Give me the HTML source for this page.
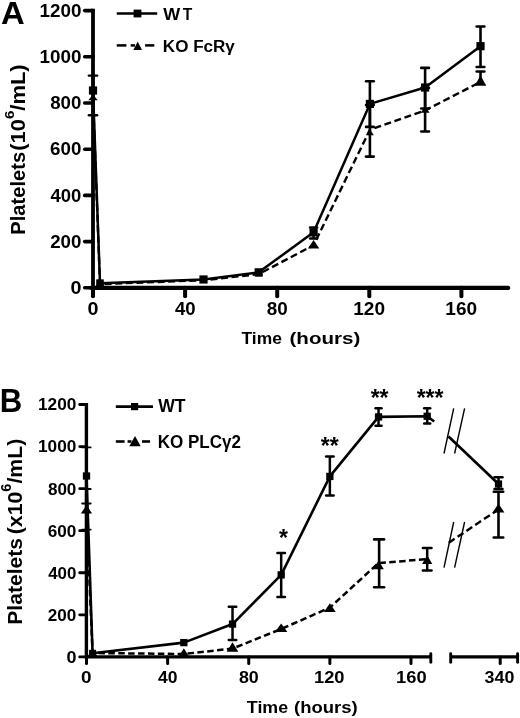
<!DOCTYPE html>
<html lang="en"><head><meta charset="utf-8"><title>Figure</title>
<style>
html,body{margin:0;padding:0;background:#fff;}
svg{display:block;}
svg text{font-family:"Liberation Sans",sans-serif;fill:#000;}
</style></head><body>
<svg width="520" height="718" viewBox="0 0 520 718">
<rect x="0" y="0" width="520" height="718" fill="#fff"/>
<g fill="#000">
<line x1="93.00" y1="8.85" x2="93.00" y2="289.60" stroke="#000" stroke-width="3.8" stroke-linecap="butt"/>
<line x1="91.10" y1="287.90" x2="508.20" y2="287.90" stroke="#000" stroke-width="4.2" stroke-linecap="round"/>
<line x1="84.70" y1="287.80" x2="93.00" y2="287.80" stroke="#000" stroke-width="3.6" stroke-linecap="round"/>
<line x1="84.70" y1="241.60" x2="93.00" y2="241.60" stroke="#000" stroke-width="3.6" stroke-linecap="round"/>
<line x1="84.70" y1="195.40" x2="93.00" y2="195.40" stroke="#000" stroke-width="3.6" stroke-linecap="round"/>
<line x1="84.70" y1="149.20" x2="93.00" y2="149.20" stroke="#000" stroke-width="3.6" stroke-linecap="round"/>
<line x1="84.70" y1="103.00" x2="93.00" y2="103.00" stroke="#000" stroke-width="3.6" stroke-linecap="round"/>
<line x1="84.70" y1="56.80" x2="93.00" y2="56.80" stroke="#000" stroke-width="3.6" stroke-linecap="round"/>
<line x1="84.70" y1="10.60" x2="93.00" y2="10.60" stroke="#000" stroke-width="3.6" stroke-linecap="round"/>
<line x1="93.00" y1="287.80" x2="93.00" y2="296.30" stroke="#000" stroke-width="4.0" stroke-linecap="round"/>
<line x1="185.10" y1="287.80" x2="185.10" y2="296.30" stroke="#000" stroke-width="4.0" stroke-linecap="round"/>
<line x1="277.20" y1="287.80" x2="277.20" y2="296.30" stroke="#000" stroke-width="4.0" stroke-linecap="round"/>
<line x1="369.30" y1="287.80" x2="369.30" y2="296.30" stroke="#000" stroke-width="4.0" stroke-linecap="round"/>
<line x1="461.40" y1="287.80" x2="461.40" y2="296.30" stroke="#000" stroke-width="4.0" stroke-linecap="round"/>
<text transform="translate(70.41 293.90) scale(1.1244 1)" font-size="17.60" font-weight="bold" >0</text>
<text transform="translate(50.15 247.70) scale(1.0632 1)" font-size="17.60" font-weight="bold" >200</text>
<text transform="translate(50.52 201.50) scale(1.0500 1)" font-size="17.60" font-weight="bold" >400</text>
<text transform="translate(50.10 155.30) scale(1.0649 1)" font-size="17.60" font-weight="bold" >600</text>
<text transform="translate(50.19 109.10) scale(1.0616 1)" font-size="17.60" font-weight="bold" >800</text>
<text transform="translate(39.42 62.90) scale(1.0720 1)" font-size="17.60" font-weight="bold" >1000</text>
<text transform="translate(39.42 16.70) scale(1.0720 1)" font-size="17.60" font-weight="bold" >1200</text>
<text transform="translate(87.51 314.90) scale(1.1118 1)" font-size="17.80" font-weight="bold" >0</text>
<text transform="translate(175.02 314.90) scale(1.0437 1)" font-size="17.80" font-weight="bold" >40</text>
<text transform="translate(266.79 314.90) scale(1.0613 1)" font-size="17.80" font-weight="bold" >80</text>
<text transform="translate(353.21 314.90) scale(1.0697 1)" font-size="17.80" font-weight="bold" >120</text>
<text transform="translate(445.31 314.90) scale(1.0697 1)" font-size="17.80" font-weight="bold" >160</text>
<text transform="translate(241.53 344.30) scale(1.0497 1)" font-size="16.60" font-weight="bold" >Time</text>
<text transform="translate(289.47 344.30) scale(1.2400 1)" font-size="16.60" font-weight="bold" >(hours)</text>
<text transform="translate(0.98 23.90) scale(1.0197 1)" font-size="32.20" font-weight="bold" >A</text>
<text transform="translate(24.70 234.66) rotate(-90) scale(1.0387 1)" font-size="19.40" font-weight="bold">Platelets</text>
<text transform="translate(24.70 150.80) rotate(-90) scale(1.1319 1)" font-size="19.40" font-weight="bold">(10<tspan font-size="13.39" dy="-10.57">6</tspan><tspan dy="10.57">/mL)</tspan></text>
<line x1="116.70" y1="13.50" x2="157.20" y2="13.50" stroke="#000" stroke-width="2.5" stroke-linecap="butt"/>
<rect x="133.60" y="9.60" width="7.80" height="7.80"/>
<text transform="translate(163.36 19.60) scale(1.0831 1)" font-size="16.60" font-weight="bold" >W</text>
<text transform="translate(182.84 19.60) scale(0.9394 1)" font-size="16.60" font-weight="bold" >T</text>
<line x1="116.70" y1="45.40" x2="126.40" y2="45.40" stroke="#000" stroke-width="2.5" stroke-linecap="butt"/>
<line x1="130.70" y1="45.40" x2="135.00" y2="45.40" stroke="#000" stroke-width="2.5" stroke-linecap="butt"/>
<line x1="145.10" y1="45.40" x2="154.30" y2="45.40" stroke="#000" stroke-width="2.5" stroke-linecap="butt"/>
<polygon points="137.70,41.50 133.40,50.00 142.00,50.00"/>
<text transform="translate(162.85 51.80) scale(1.0149 1)" font-size="16.80" font-weight="bold" >KO FcRγ</text>
<polyline points="93.00,98.07 100.00,284.14 203.50,280.22 258.70,274.14 313.60,245.21 369.90,129.79 425.10,110.46 480.50,81.85" fill="none" stroke="#000" stroke-width="2.4" stroke-linejoin="round" stroke-dasharray="7 3.6"/>
<polyline points="93.00,90.53 100.00,283.18 203.50,279.48 258.70,272.32 313.60,232.36 369.90,103.92 425.10,87.52 480.50,46.17" fill="none" stroke="#000" stroke-width="2.5" stroke-linejoin="round"/>
<line x1="93.00" y1="75.60" x2="93.00" y2="115.20" stroke="#000" stroke-width="2.4" stroke-linecap="butt"/>
<line x1="88.86" y1="75.60" x2="97.14" y2="75.60" stroke="#000" stroke-width="2.4" stroke-linecap="round"/>
<line x1="88.86" y1="115.20" x2="97.14" y2="115.20" stroke="#000" stroke-width="2.4" stroke-linecap="round"/>
<line x1="313.60" y1="227.50" x2="313.60" y2="238.50" stroke="#000" stroke-width="2.4" stroke-linecap="butt"/>
<line x1="310.06" y1="227.50" x2="317.14" y2="227.50" stroke="#000" stroke-width="2.4" stroke-linecap="round"/>
<line x1="310.06" y1="238.50" x2="317.14" y2="238.50" stroke="#000" stroke-width="2.4" stroke-linecap="round"/>
<line x1="369.90" y1="81.30" x2="369.90" y2="126.90" stroke="#000" stroke-width="2.6" stroke-linecap="butt"/>
<line x1="366.04" y1="81.30" x2="373.76" y2="81.30" stroke="#000" stroke-width="2.6" stroke-linecap="round"/>
<line x1="366.04" y1="126.90" x2="373.76" y2="126.90" stroke="#000" stroke-width="2.6" stroke-linecap="round"/>
<line x1="369.90" y1="105.00" x2="369.90" y2="156.60" stroke="#000" stroke-width="2.6" stroke-linecap="butt"/>
<line x1="366.04" y1="105.00" x2="373.76" y2="105.00" stroke="#000" stroke-width="2.6" stroke-linecap="round"/>
<line x1="366.04" y1="156.60" x2="373.76" y2="156.60" stroke="#000" stroke-width="2.6" stroke-linecap="round"/>
<line x1="425.10" y1="67.90" x2="425.10" y2="108.50" stroke="#000" stroke-width="2.6" stroke-linecap="butt"/>
<line x1="421.24" y1="67.90" x2="428.96" y2="67.90" stroke="#000" stroke-width="2.6" stroke-linecap="round"/>
<line x1="421.24" y1="108.50" x2="428.96" y2="108.50" stroke="#000" stroke-width="2.6" stroke-linecap="round"/>
<line x1="425.10" y1="88.00" x2="425.10" y2="131.50" stroke="#000" stroke-width="2.6" stroke-linecap="butt"/>
<line x1="421.24" y1="88.00" x2="428.96" y2="88.00" stroke="#000" stroke-width="2.6" stroke-linecap="round"/>
<line x1="421.24" y1="131.50" x2="428.96" y2="131.50" stroke="#000" stroke-width="2.6" stroke-linecap="round"/>
<line x1="480.50" y1="26.50" x2="480.50" y2="67.00" stroke="#000" stroke-width="2.6" stroke-linecap="butt"/>
<line x1="476.64" y1="26.50" x2="484.36" y2="26.50" stroke="#000" stroke-width="2.6" stroke-linecap="round"/>
<line x1="476.64" y1="67.00" x2="484.36" y2="67.00" stroke="#000" stroke-width="2.6" stroke-linecap="round"/>
<line x1="480.50" y1="71.50" x2="480.50" y2="84.00" stroke="#000" stroke-width="2.6" stroke-linecap="butt"/>
<line x1="476.64" y1="71.50" x2="484.36" y2="71.50" stroke="#000" stroke-width="2.6" stroke-linecap="round"/>
<rect x="88.90" y="86.43" width="8.20" height="8.20"/>
<rect x="96.20" y="279.38" width="7.60" height="7.60"/>
<rect x="199.40" y="275.38" width="8.20" height="8.20"/>
<rect x="254.60" y="268.22" width="8.20" height="8.20"/>
<rect x="309.50" y="228.26" width="8.20" height="8.20"/>
<rect x="365.80" y="99.82" width="8.20" height="8.20"/>
<rect x="421.00" y="83.42" width="8.20" height="8.20"/>
<rect x="476.40" y="42.07" width="8.20" height="8.20"/>
<polygon points="93.00,94.60 88.30,100.20 97.70,100.20"/>
<polygon points="100.00,279.80 95.25,286.80 104.75,286.80"/>
<polygon points="203.50,276.50 200.00,282.50 207.00,282.50"/>
<polygon points="258.70,270.30 254.95,276.50 262.45,276.50"/>
<polygon points="313.60,240.00 307.90,248.40 319.30,248.40"/>
<polygon points="369.90,129.00 366.00,135.20 373.80,135.20"/>
<polygon points="425.10,106.00 420.70,112.80 429.50,112.80"/>
<polygon points="480.50,75.40 474.65,85.80 486.35,85.80"/>
<line x1="86.40" y1="403.10" x2="86.40" y2="658.40" stroke="#000" stroke-width="3.4" stroke-linecap="butt"/>
<line x1="84.70" y1="656.90" x2="430.80" y2="656.90" stroke="#000" stroke-width="3.1" stroke-linecap="butt"/>
<line x1="450.70" y1="656.90" x2="517.50" y2="656.90" stroke="#000" stroke-width="3.1" stroke-linecap="butt"/>
<line x1="430.80" y1="653.80" x2="430.80" y2="662.20" stroke="#000" stroke-width="2.9" stroke-linecap="round"/>
<line x1="450.70" y1="653.80" x2="450.70" y2="662.20" stroke="#000" stroke-width="2.9" stroke-linecap="round"/>
<line x1="517.60" y1="653.80" x2="517.60" y2="662.20" stroke="#000" stroke-width="2.9" stroke-linecap="round"/>
<line x1="79.70" y1="656.90" x2="86.40" y2="656.90" stroke="#000" stroke-width="2.8" stroke-linecap="round"/>
<line x1="79.70" y1="614.83" x2="86.40" y2="614.83" stroke="#000" stroke-width="2.8" stroke-linecap="round"/>
<line x1="79.70" y1="572.77" x2="86.40" y2="572.77" stroke="#000" stroke-width="2.8" stroke-linecap="round"/>
<line x1="79.70" y1="530.70" x2="86.40" y2="530.70" stroke="#000" stroke-width="2.8" stroke-linecap="round"/>
<line x1="79.70" y1="488.63" x2="86.40" y2="488.63" stroke="#000" stroke-width="2.8" stroke-linecap="round"/>
<line x1="79.70" y1="446.57" x2="86.40" y2="446.57" stroke="#000" stroke-width="2.8" stroke-linecap="round"/>
<line x1="79.70" y1="404.50" x2="86.40" y2="404.50" stroke="#000" stroke-width="2.8" stroke-linecap="round"/>
<line x1="86.50" y1="656.90" x2="86.50" y2="663.40" stroke="#000" stroke-width="3.0" stroke-linecap="round"/>
<line x1="167.62" y1="656.90" x2="167.62" y2="663.40" stroke="#000" stroke-width="3.0" stroke-linecap="round"/>
<line x1="248.74" y1="656.90" x2="248.74" y2="663.40" stroke="#000" stroke-width="3.0" stroke-linecap="round"/>
<line x1="329.86" y1="656.90" x2="329.86" y2="663.40" stroke="#000" stroke-width="3.0" stroke-linecap="round"/>
<line x1="410.98" y1="656.90" x2="410.98" y2="663.40" stroke="#000" stroke-width="3.0" stroke-linecap="round"/>
<line x1="500.20" y1="656.90" x2="500.20" y2="663.40" stroke="#000" stroke-width="3.0" stroke-linecap="round"/>
<text transform="translate(66.43 662.80) scale(1.0778 1)" font-size="16.70" font-weight="bold" >0</text>
<text transform="translate(47.85 620.73) scale(1.0246 1)" font-size="16.70" font-weight="bold" >200</text>
<text transform="translate(48.20 578.67) scale(1.0119 1)" font-size="16.70" font-weight="bold" >400</text>
<text transform="translate(47.81 536.60) scale(1.0262 1)" font-size="16.70" font-weight="bold" >600</text>
<text transform="translate(47.89 494.53) scale(1.0230 1)" font-size="16.70" font-weight="bold" >800</text>
<text transform="translate(38.02 452.47) scale(1.0338 1)" font-size="16.70" font-weight="bold" >1000</text>
<text transform="translate(38.02 410.40) scale(1.0338 1)" font-size="16.70" font-weight="bold" >1200</text>
<text transform="translate(81.04 683.30) scale(1.1211 1)" font-size="16.90" font-weight="bold" >0</text>
<text transform="translate(158.11 683.30) scale(1.0376 1)" font-size="16.90" font-weight="bold" >40</text>
<text transform="translate(238.91 683.30) scale(1.0551 1)" font-size="16.90" font-weight="bold" >80</text>
<text transform="translate(313.96 683.30) scale(1.0851 1)" font-size="16.90" font-weight="bold" >120</text>
<text transform="translate(396.08 683.30) scale(1.0851 1)" font-size="16.90" font-weight="bold" >160</text>
<text transform="translate(484.55 683.30) scale(1.0581 1)" font-size="16.90" font-weight="bold" >340</text>
<text transform="translate(246.82 712.60) scale(1.0242 1)" font-size="17.40" font-weight="bold" >Time</text>
<text transform="translate(294.08 712.60) scale(1.0626 1)" font-size="17.40" font-weight="bold" >(hours)</text>
<text transform="translate(-0.30 411.50) scale(0.9554 1)" font-size="32.60" font-weight="bold" >B</text>
<text transform="translate(22.00 624.72) rotate(-90) scale(1.0549 1)" font-size="20.00" font-weight="bold">Platelets</text>
<text transform="translate(22.00 534.26) rotate(-90) scale(1.0625 1)" font-size="20.00" font-weight="bold">(x10<tspan font-size="13.80" dy="-10.90">6</tspan><tspan dy="10.90">/mL)</tspan></text>
<line x1="115.80" y1="406.60" x2="153.00" y2="406.60" stroke="#000" stroke-width="2.6" stroke-linecap="butt"/>
<rect x="131.00" y="403.00" width="7.20" height="7.20"/>
<text transform="translate(158.16 412.30) scale(0.9851 1)" font-size="17.90" font-weight="bold" >WT</text>
<line x1="115.80" y1="441.50" x2="124.60" y2="441.50" stroke="#000" stroke-width="2.6" stroke-linecap="butt"/>
<line x1="127.60" y1="441.50" x2="131.50" y2="441.50" stroke="#000" stroke-width="2.6" stroke-linecap="butt"/>
<line x1="142.00" y1="441.50" x2="150.00" y2="441.50" stroke="#000" stroke-width="2.6" stroke-linecap="butt"/>
<polygon points="135.00,436.00 129.30,446.20 140.70,446.20"/>
<text transform="translate(157.65 448.00) scale(0.9586 1)" font-size="17.80" font-weight="bold" >KO PLCγ2</text>
<polyline points="86.50,510.50 92.58,653.00 183.84,654.00 232.52,648.60 281.19,629.00 329.86,607.60 378.53,563.00 427.20,559.20" fill="none" stroke="#000" stroke-width="2.5" stroke-linejoin="round" stroke-dasharray="6.5 3.4"/>
<polyline points="86.50,476.01 92.58,653.32 183.84,642.60 232.52,624.09 281.19,574.87 329.86,476.43 378.53,416.91 427.20,416.28 434.20,421.50" fill="none" stroke="#000" stroke-width="2.6" stroke-linejoin="round"/>
<line x1="448.50" y1="436.50" x2="498.50" y2="484.00" stroke="#000" stroke-width="2.6" stroke-linecap="butt"/>
<line x1="448.80" y1="542.70" x2="498.50" y2="509.40" stroke="#000" stroke-width="2.4" stroke-linecap="butt" stroke-dasharray="7 3.6"/>
<line x1="453.70" y1="408.30" x2="444.00" y2="453.50" stroke="#000" stroke-width="1.4" stroke-linecap="butt"/>
<line x1="464.60" y1="408.30" x2="454.60" y2="453.50" stroke="#000" stroke-width="1.4" stroke-linecap="butt"/>
<line x1="453.70" y1="522.00" x2="444.00" y2="567.70" stroke="#000" stroke-width="1.4" stroke-linecap="butt"/>
<line x1="464.60" y1="522.00" x2="454.60" y2="567.70" stroke="#000" stroke-width="1.4" stroke-linecap="butt"/>
<line x1="86.40" y1="447.40" x2="86.40" y2="489.00" stroke="#000" stroke-width="1.8" stroke-linecap="butt"/>
<line x1="82.12" y1="447.40" x2="90.68" y2="447.40" stroke="#000" stroke-width="1.8" stroke-linecap="round"/>
<line x1="82.12" y1="489.00" x2="90.68" y2="489.00" stroke="#000" stroke-width="1.8" stroke-linecap="round"/>
<line x1="86.40" y1="503.50" x2="86.40" y2="529.60" stroke="#000" stroke-width="1.8" stroke-linecap="butt"/>
<line x1="82.12" y1="503.50" x2="90.68" y2="503.50" stroke="#000" stroke-width="1.8" stroke-linecap="round"/>
<line x1="82.12" y1="529.60" x2="90.68" y2="529.60" stroke="#000" stroke-width="1.8" stroke-linecap="round"/>
<line x1="232.52" y1="606.80" x2="232.52" y2="640.00" stroke="#000" stroke-width="2.5" stroke-linecap="butt"/>
<line x1="228.77" y1="606.80" x2="236.27" y2="606.80" stroke="#000" stroke-width="2.5" stroke-linecap="round"/>
<line x1="228.77" y1="640.00" x2="236.27" y2="640.00" stroke="#000" stroke-width="2.5" stroke-linecap="round"/>
<line x1="281.19" y1="552.90" x2="281.19" y2="596.90" stroke="#000" stroke-width="2.5" stroke-linecap="butt"/>
<line x1="277.44" y1="552.90" x2="284.94" y2="552.90" stroke="#000" stroke-width="2.5" stroke-linecap="round"/>
<line x1="277.44" y1="596.90" x2="284.94" y2="596.90" stroke="#000" stroke-width="2.5" stroke-linecap="round"/>
<line x1="329.86" y1="456.50" x2="329.86" y2="495.40" stroke="#000" stroke-width="2.5" stroke-linecap="butt"/>
<line x1="326.11" y1="456.50" x2="333.61" y2="456.50" stroke="#000" stroke-width="2.5" stroke-linecap="round"/>
<line x1="326.11" y1="495.40" x2="333.61" y2="495.40" stroke="#000" stroke-width="2.5" stroke-linecap="round"/>
<line x1="378.53" y1="408.30" x2="378.53" y2="425.80" stroke="#000" stroke-width="2.5" stroke-linecap="butt"/>
<line x1="375.53" y1="408.30" x2="381.53" y2="408.30" stroke="#000" stroke-width="2.5" stroke-linecap="round"/>
<line x1="375.53" y1="425.80" x2="381.53" y2="425.80" stroke="#000" stroke-width="2.5" stroke-linecap="round"/>
<line x1="427.20" y1="408.30" x2="427.20" y2="423.40" stroke="#000" stroke-width="2.5" stroke-linecap="butt"/>
<line x1="424.20" y1="408.30" x2="430.20" y2="408.30" stroke="#000" stroke-width="2.5" stroke-linecap="round"/>
<line x1="424.20" y1="423.40" x2="430.20" y2="423.40" stroke="#000" stroke-width="2.5" stroke-linecap="round"/>
<line x1="379.13" y1="539.40" x2="379.13" y2="587.20" stroke="#000" stroke-width="2.6" stroke-linecap="butt"/>
<line x1="374.17" y1="539.40" x2="384.09" y2="539.40" stroke="#000" stroke-width="2.6" stroke-linecap="round"/>
<line x1="374.17" y1="587.20" x2="384.09" y2="587.20" stroke="#000" stroke-width="2.6" stroke-linecap="round"/>
<line x1="427.20" y1="547.90" x2="427.20" y2="570.40" stroke="#000" stroke-width="2.5" stroke-linecap="butt"/>
<line x1="422.90" y1="547.90" x2="431.50" y2="547.90" stroke="#000" stroke-width="2.5" stroke-linecap="round"/>
<line x1="422.90" y1="570.40" x2="431.50" y2="570.40" stroke="#000" stroke-width="2.5" stroke-linecap="round"/>
<line x1="498.50" y1="477.30" x2="498.50" y2="489.00" stroke="#000" stroke-width="2.4" stroke-linecap="butt"/>
<line x1="494.46" y1="477.30" x2="502.54" y2="477.30" stroke="#000" stroke-width="2.4" stroke-linecap="round"/>
<line x1="494.46" y1="489.00" x2="502.54" y2="489.00" stroke="#000" stroke-width="2.4" stroke-linecap="round"/>
<line x1="498.50" y1="491.80" x2="498.50" y2="537.50" stroke="#000" stroke-width="2.6" stroke-linecap="butt"/>
<line x1="493.79" y1="491.80" x2="503.21" y2="491.80" stroke="#000" stroke-width="2.6" stroke-linecap="round"/>
<line x1="493.79" y1="537.50" x2="503.21" y2="537.50" stroke="#000" stroke-width="2.6" stroke-linecap="round"/>
<rect x="82.85" y="472.36" width="7.30" height="7.30"/>
<rect x="89.08" y="649.82" width="7.00" height="7.00"/>
<rect x="180.19" y="638.95" width="7.30" height="7.30"/>
<rect x="228.87" y="620.44" width="7.30" height="7.30"/>
<rect x="277.54" y="571.22" width="7.30" height="7.30"/>
<rect x="326.21" y="472.78" width="7.30" height="7.30"/>
<rect x="374.88" y="413.26" width="7.30" height="7.30"/>
<rect x="423.55" y="412.63" width="7.30" height="7.30"/>
<rect x="494.90" y="480.40" width="7.20" height="7.20"/>
<polygon points="86.50,505.00 80.90,513.60 92.10,513.60"/>
<polygon points="92.58,648.50 87.58,656.50 97.58,656.50"/>
<polygon points="183.84,648.20 178.04,657.40 189.64,657.40"/>
<polygon points="232.52,642.30 226.72,651.80 238.32,651.80"/>
<polygon points="281.19,623.50 274.99,632.00 287.39,632.00"/>
<polygon points="329.86,603.20 323.96,612.00 335.76,612.00"/>
<polygon points="378.53,560.40 373.23,569.20 383.83,569.20"/>
<polygon points="427.20,555.20 422.10,563.90 432.30,563.90"/>
<polygon points="498.50,503.60 492.60,512.60 504.40,512.60"/>
<text transform="translate(279.12 546.30) scale(1.0000 1)" font-size="23.00" font-weight="bold" >*</text>
<text transform="translate(320.73 453.50) scale(1.0000 1)" font-size="23.00" font-weight="bold" >**</text>
<text transform="translate(370.63 406.30) scale(1.0000 1)" font-size="23.00" font-weight="bold" >**</text>
<text transform="translate(416.67 406.30) scale(1.0000 1)" font-size="23.00" font-weight="bold" >***</text>
</g>
</svg>
</body></html>
